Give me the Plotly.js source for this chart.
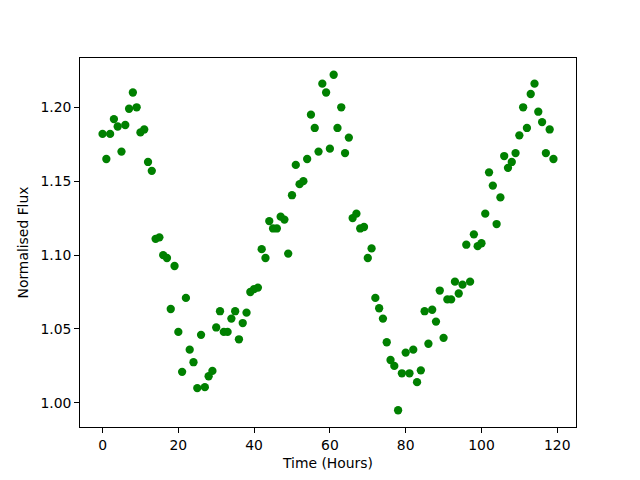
<!DOCTYPE html>
<html>
<head>
<meta charset="utf-8">
<script src="https://cdn.plot.ly/plotly-3.0.1.min.js"></script>
<style>html,body{margin:0;padding:0;background:#fff;}#chart{width:640px;height:480px;}</style>
</head>
<body>
<div id="chart"></div>
<script>
const timeHours = Array.from({length: 120}, (_, i) => i);
const flux = [
  1.182, 1.165, 1.182, 1.192, 1.187, 1.170, 1.188, 1.199, 1.210, 1.200,
  1.183, 1.185, 1.163, 1.157, 1.111, 1.112, 1.100, 1.098, 1.0635, 1.0926,
  1.048, 1.021, 1.071, 1.036, 1.0275, 1.010, 1.046, 1.0106, 1.018, 1.0216,
  1.051, 1.062, 1.048, 1.048, 1.057, 1.062, 1.043, 1.054, 1.061, 1.075,
  1.077, 1.078, 1.104, 1.098, 1.123, 1.118, 1.118, 1.126, 1.124, 1.101,
  1.1405, 1.161, 1.148, 1.150, 1.165, 1.195, 1.186, 1.170, 1.216, 1.210,
  1.172, 1.222, 1.186, 1.200, 1.169, 1.1795, 1.125, 1.128, 1.118, 1.119,
  1.098, 1.1045, 1.071, 1.064, 1.057, 1.041, 1.029, 1.025, 0.995, 1.020,
  1.034, 1.020, 1.036, 1.014, 1.022, 1.062, 1.040, 1.063, 1.055, 1.076,
  1.044, 1.070, 1.070, 1.082, 1.074, 1.080, 1.107, 1.082, 1.114, 1.106,
  1.108, 1.128, 1.156, 1.147, 1.121, 1.139, 1.167, 1.159, 1.163, 1.169,
  1.181, 1.200, 1.186, 1.209, 1.216, 1.197, 1.190, 1.169, 1.185, 1.165
];
const xTicks = [0, 20, 40, 60, 80, 100, 120];
const yTicks = [1.00, 1.05, 1.10, 1.15, 1.20];
const yTickLabels = ['1.00', '1.05', '1.10', '1.15', '1.20'];

function padRange(arr) {
  const mn = Math.min(...arr), mx = Math.max(...arr);
  const pad = (mx - mn) * 0.05;
  return [mn - pad, mx + pad];
}

const font = {family: 'DejaVu Sans, sans-serif', size: 13.9, color: '#000'};
const axisCommon = {
  showgrid: false, zeroline: false, showline: true, linecolor: '#000', linewidth: 1,
  mirror: true, ticks: 'outside', ticklen: 4.9, tickwidth: 1, tickcolor: '#000',
  tickfont: {family: 'DejaVu Sans, sans-serif', size: 13.9, color: '#000'}
};

Plotly.newPlot('chart', [{
  x: timeHours, y: flux, type: 'scatter', mode: 'markers',
  marker: {color: '#008000', size: 8.3, line: {width: 0}},
  cliponaxis: false
}], {
  width: 640, height: 480,
  margin: {l: 80, r: 64, t: 58, b: 53, pad: 0},
  paper_bgcolor: '#fff', plot_bgcolor: '#fff',
  font: font, showlegend: false,
  xaxis: Object.assign({}, axisCommon, {
    range: padRange(timeHours), tickvals: xTicks,
    title: {text: 'Time (Hours)', font: font, standoff: 6}
  }),
  yaxis: Object.assign({}, axisCommon, {
    range: padRange(flux), tickvals: yTicks, ticktext: yTickLabels,
    title: {text: 'Normalised Flux', font: font, standoff: 8}
  })
}, {staticPlot: true, displayModeBar: false});
</script>
</body>
</html>
